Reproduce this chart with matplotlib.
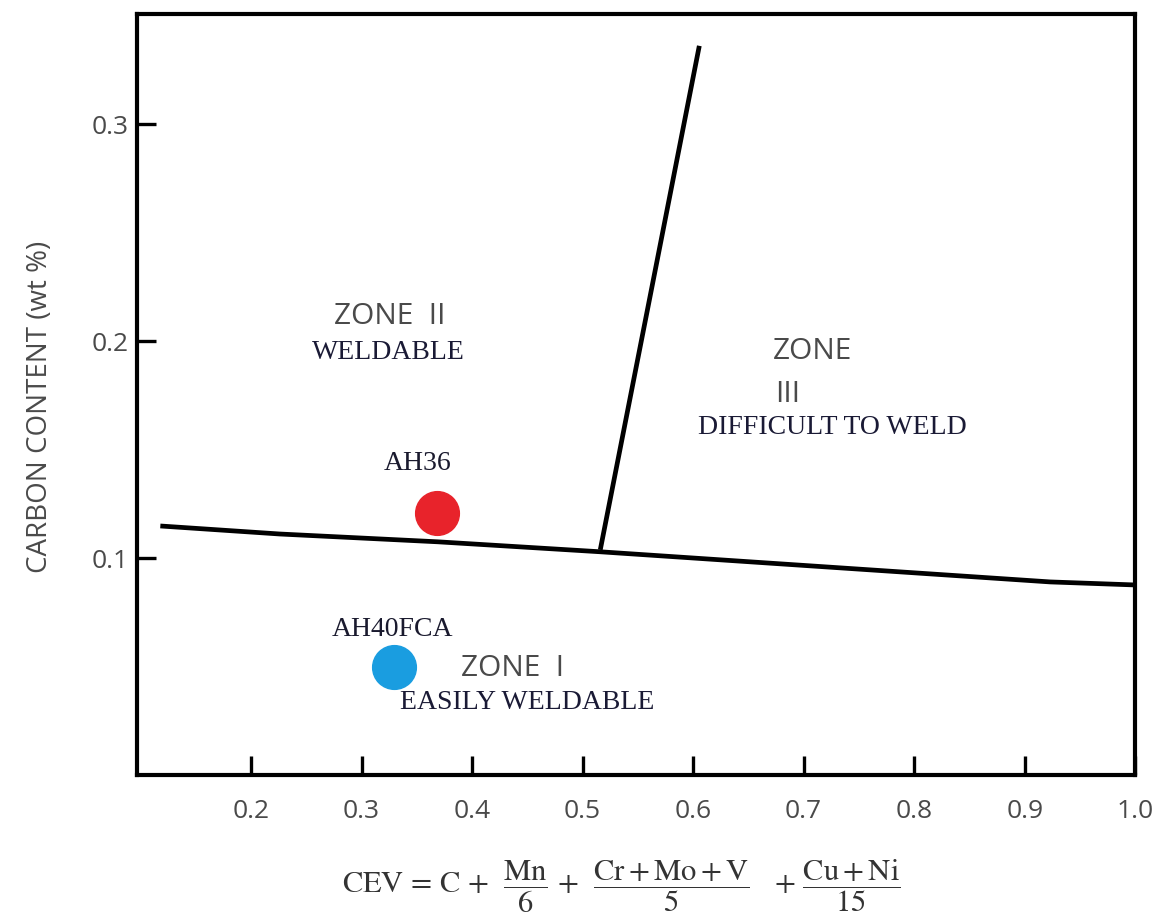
import matplotlib
matplotlib.use("Agg")
import matplotlib.pyplot as plt

# boundary lines (CEV, C wt%)
lower_x = [0.118, 0.226, 0.369, 0.516, 0.923, 1.0]
lower_y = [0.1148, 0.1111, 0.1075, 0.1029, 0.0890, 0.0876]
upper_x = [0.516, 0.6056]
upper_y = [0.1038, 0.3362]

# steels
steels = ["AH36", "AH40FCA"]
steel_cev = [0.368, 0.329]
steel_c = [0.121, 0.050]
steel_colors = ["#e8232b", "#1a9de0"]

xticks = [0.2, 0.3, 0.4, 0.5, 0.6, 0.7, 0.8, 0.9, 1.0]
yticks = [0.1, 0.2, 0.3]

plt.rcParams["mathtext.fontset"] = "stix"

fig = plt.figure(figsize=(11.62, 9.16), dpi=100)
ax = fig.add_axes([0.118, 0.154, 0.859, 0.831])

ax.plot(lower_x, lower_y, color="black", lw=3.4, solid_capstyle="butt")
ax.plot(upper_x, upper_y, color="black", lw=3.4, solid_capstyle="butt")

label_pos = {"AH36": (0.351, 0.1434), "AH40FCA": (0.328, 0.0669)}
for name, cx, cy, col in zip(steels, steel_cev, steel_c, steel_colors):
    ax.plot(cx, cy, "o", ms=31.5, color=col, mec=col)
    lx, ly = label_pos[name]
    ax.text(lx, ly, name, ha="center", va="center", fontsize=20,
            family="Liberation Serif", color="#1a1a2e")

grey = "#4a4a4a"
navy = "#1a1a35"
ax.text(0.326, 0.2112, "ZONE  II", ha="center", va="center", fontsize=21.5,
        family="Open Sans", color=grey)
ax.text(0.324, 0.1946, "WELDABLE", ha="center", va="center", fontsize=20,
        family="Liberation Serif", color=navy)
ax.text(0.437, 0.0493, "ZONE  I", ha="center", va="center", fontsize=21.5,
        family="Open Sans", color=grey)
ax.text(0.450, 0.0332, "EASILY WELDABLE", ha="center", va="center", fontsize=20,
        family="Liberation Serif", color=navy)
ax.text(0.6726, 0.1951, "ZONE", ha="left", va="center", fontsize=21.5,
        family="Open Sans", color=grey)
ax.text(0.6744, 0.1752, "III", ha="left", va="center", fontsize=21.5,
        family="Open Sans", color=grey)
ax.text(0.726, 0.1600, "DIFFICULT TO WELD", ha="center", va="center", fontsize=20,
        family="Liberation Serif", color=navy)

ax.set_xlim(0.097, 1.0)
ax.set_ylim(0.0, 0.351)
ax.set_xticks(xticks)
ax.set_xticklabels(["%.1f" % v for v in xticks])
ax.set_yticks(yticks)
ax.set_yticklabels(["%.1f" % v for v in yticks])

for s in ax.spines.values():
    s.set_linewidth(3.0)
ax.tick_params(direction="in", length=14, width=2.4, labelsize=19,
               labelcolor=grey)
ax.tick_params(axis="x", pad=17)
ax.tick_params(axis="y", pad=6)
for lab in ax.get_xticklabels() + ax.get_yticklabels():
    lab.set_family("Open Sans")

fig.text(0.034, 0.556, "CARBON CONTENT (wt %)", rotation=90, ha="center",
         va="center", fontsize=20, family="Open Sans", color=grey)

fig.text(0.535, 0.032,
         r"CEV = C +  $\dfrac{\mathrm{Mn}}{6}$ +  $\dfrac{\mathrm{Cr + Mo + V}}{5}$"
         r"   + $\dfrac{\mathrm{Cu + Ni}}{15}$",
         ha="center", va="center", fontsize=22, family="STIXGeneral",
         color="#333333")

fig.savefig("out.png", dpi=100)
